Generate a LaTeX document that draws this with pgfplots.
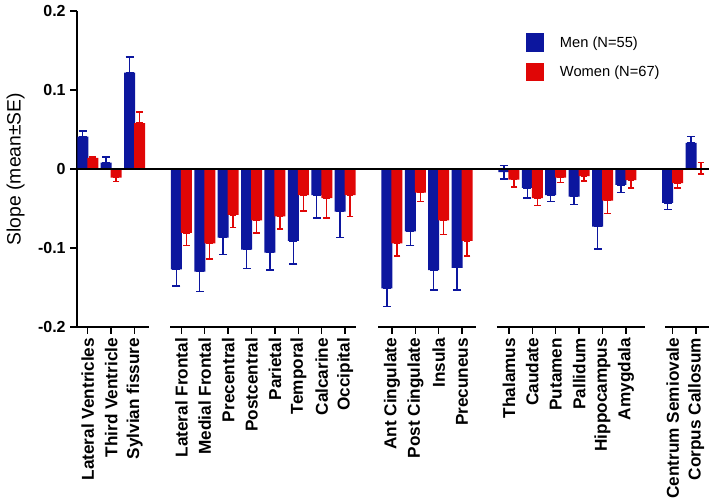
\documentclass[border=0pt]{standalone}
\usepackage{fontspec}
\setmainfont{Liberation Sans}
\usepackage{pgfplots}
\usepackage{pgfplotstable}
\pgfplotsset{compat=1.18}
\definecolor{mblue}{RGB}{12,22,158}
\definecolor{wred}{RGB}{224,6,6}
\pgfplotstableread{
x      B       Bp      Bm      R       Rp      Rm
0      0.041   0.007   0       0.014   0.001   0
1      0.008   0.007   0       -0.011  0       0.005
2      0.122   0.020   0       0.058   0.014   0
4      -0.127  0       0.021   -0.081  0       0.016
5      -0.130  0       0.025   -0.094  0       0.020
6      -0.087  0       0.021   -0.058  0       0.016
7      -0.102  0       0.024   -0.065  0       0.016
8      -0.106  0       0.022   -0.060  0       0.016
9      -0.091  0       0.029   -0.033  0       0.020
10     -0.033  0       0.029   -0.037  0       0.025
11     -0.054  0       0.033   -0.033  0       0.027
13     -0.151  0       0.023   -0.094  0       0.016
14     -0.079  0       0.018   -0.030  0       0.011
15     -0.128  0       0.025   -0.065  0       0.018
16     -0.125  0       0.028   -0.091  0       0.019
18     -0.004  0.0085  0.0085  -0.0135 0       0.009
19     -0.024  0       0.013   -0.037  0       0.009
20     -0.033  0       0.008   -0.011  0       0.006
21     -0.035  0       0.010   -0.009  0       0.006
22     -0.073  0       0.028   -0.040  0       0.016
23     -0.020  0       0.010   -0.014  0       0.010
25     -0.043  0       0.008   -0.018  0       0.006
26     0.033   0.008   0       0.001   0.0075  0.0075
}\data
\begin{document}
\begin{tikzpicture}
\begin{axis}[
  name=ax,
  width=474pt, height=237pt, scale only axis,
  xmin=-0.46, xmax=26.55, ymin=-0.2, ymax=0.2,
  clip=false,
  axis y line*=left, axis x line*=bottom,
  axis line style={-, line width=1.1pt, black},
  x axis line style={draw=none},
  tick align=outside,
  major tick length=5pt,
  every tick/.style={black, line width=1.1pt},
  xtick={0,1,2,4,5,6,7,8,9,10,11,13,14,15,16,18,19,20,21,22,23,25,26},
  xticklabels={Lateral Ventricles,Third Ventricle,Sylvian fissure,Lateral Frontal,Medial Frontal,Precentral,Postcentral,Parietal,Temporal,Calcarine,Occipital,Ant Cingulate,Post Cingulate,Insula,Precuneus,Thalamus,Caudate,Putamen,Pallidum,Hippocampus,Amygdala,Centrum Semiovale,Corpus Callosum},
  xticklabel style={rotate=90, anchor=east, font=\fontsize{12.9}{14}\selectfont\bfseries, inner sep=3pt},
  ytick={-0.2,-0.1,0,0.1,0.2},
  yticklabels={-0.2,-0.1,0,0.1,0.2},
  yticklabel style={font=\fontsize{12}{14}\selectfont\bfseries},
  ylabel={Slope (mean±SE)},
  every axis y label/.style={at={(axis description cs:-0.097,0.5)}, rotate=90, anchor=center, font=\fontsize{14.5}{16}\selectfont},
  legend style={draw=none, fill=none, at={(axis description cs:0.71,0.93)}, anchor=north west,
    font=\fontsize{11}{13}\selectfont, row sep=8pt, inner sep=0pt,
    /tikz/every even column/.style={column sep=0pt}},
  legend cell align=left,
  legend image code/.code={\fill[#1] (0pt,-7pt) rectangle (13.5pt,7pt);},
]
\addplot[ybar, bar width=8.25pt, bar shift=0pt, fill=mblue, draw=none,
  error bars/.cd, y dir=both, y explicit,
  error bar style={draw=mblue, line width=1.1pt, solid},
  error mark options={draw=mblue, line width=1.1pt, mark size=3pt, rotate=90}]
  table[x expr=\thisrow{x}-0.2137, y=B, y error plus=Bp, y error minus=Bm]{\data};
\addlegendentry{\hspace{10pt}Men (N=55)}
\addplot[ybar, bar width=8.25pt, bar shift=0pt, fill=wred, draw=none,
  error bars/.cd, y dir=both, y explicit,
  error bar style={draw=wred, line width=1.1pt, solid},
  error mark options={draw=wred, line width=1.1pt, mark size=2.5pt, rotate=90}]
  table[x expr=\thisrow{x}+0.2137, y=R, y error plus=Rp, y error minus=Rm]{\data};
\addlegendentry{\hspace{10pt}Women (N=67)}
\addplot[black, line width=1.1pt, forget plot] coordinates {(-0.46,0) (26.55,0)};
\addplot[black, line width=1.1pt, forget plot, unbounded coords=jump] coordinates {
  (-0.46,-0.2) (2.62,-0.2) (nan,nan)
  (3.52,-0.2) (11.45,-0.2) (nan,nan)
  (12.42,-0.2) (16.58,-0.2) (nan,nan)
  (17.48,-0.2) (23.8,-0.2) (nan,nan)
  (24.68,-0.2) (26.55,-0.2)};
\end{axis}
\pgfresetboundingbox
\path ([xshift=-57.75pt,yshift=-132pt]ax.south west) rectangle ([xshift=3.75pt,yshift=8.25pt]ax.north east);
\end{tikzpicture}
\end{document}
